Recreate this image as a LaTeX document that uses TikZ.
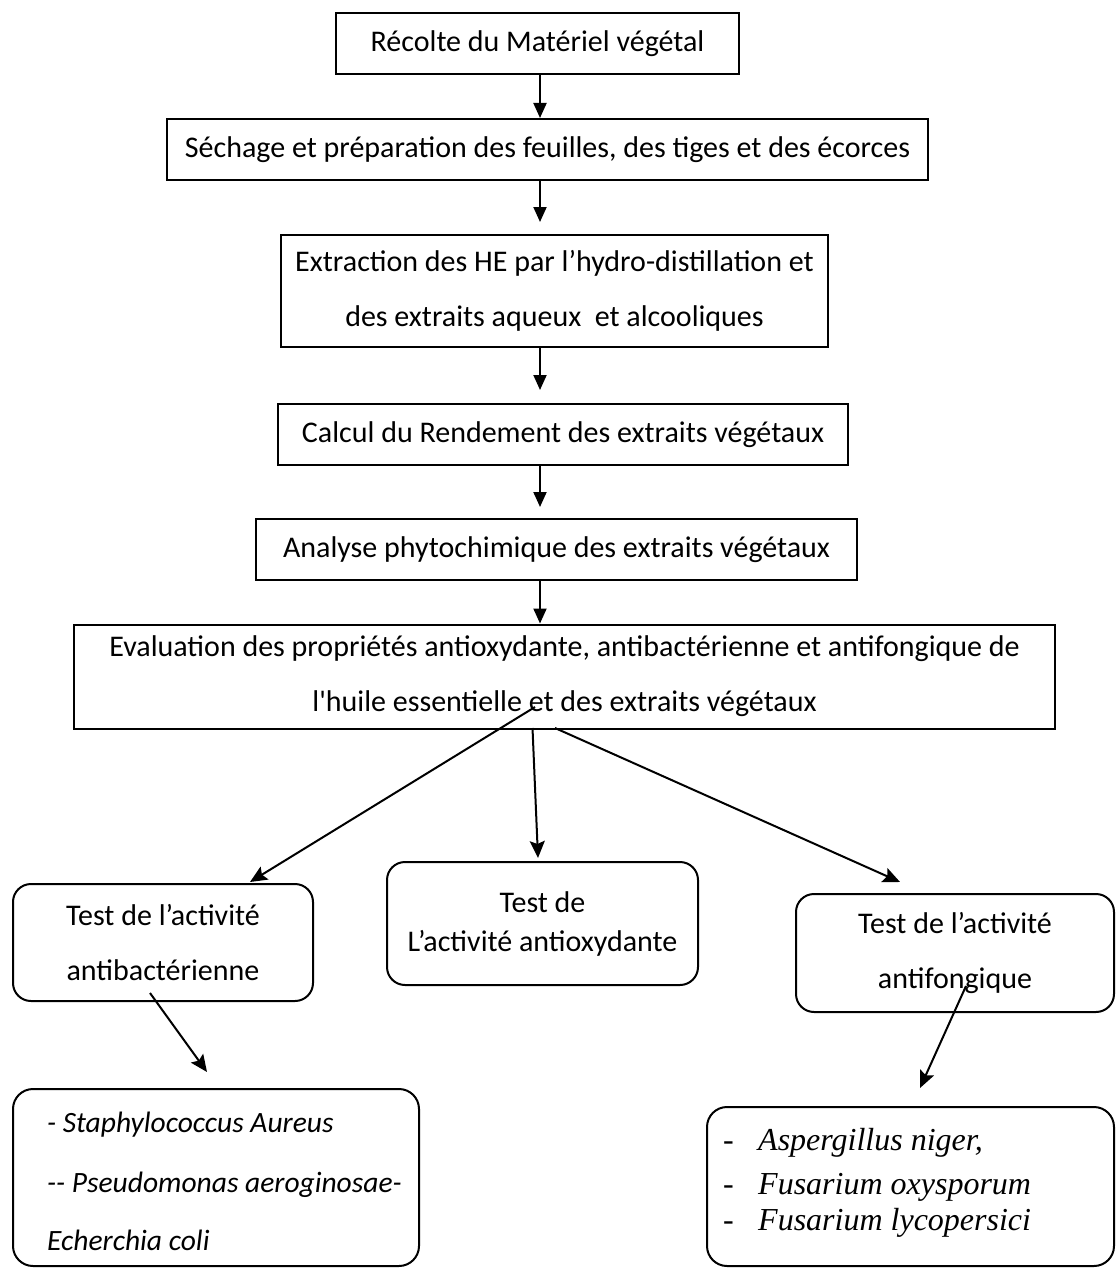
\documentclass[tikz,border=0pt]{standalone}
\usepackage{fontspec}
\setmainfont{Carlito}
\newfontfamily\serifit{Liberation Serif}
\usetikzlibrary{positioning, arrows.meta}

\tikzset{
  stepbox/.style={draw, line width=2pt, inner sep=0pt, align=center,
    font=\fontsize{30}{55}\selectfont},
  testbox/.style={stepbox, rounded corners=18pt},
  listbox/.style={draw, line width=2pt, rounded corners=20pt, inner sep=0pt},
  strain/.style={inner sep=0pt, font=\fontsize{29.5}{34}\selectfont\itshape},
  fungus/.style={inner sep=0pt, font=\fontsize{32}{36}\selectfont\serifit},
  flow/.style={-{Triangle[length=15pt, width=13pt]}, line width=2pt},
  branch/.style={-{Stealth[length=17pt, width=15pt, inset=3pt]}, line width=2pt},
}

\begin{document}
\begin{tikzpicture}[x=1pt, y=-1pt]
  \useasboundingbox (0,0) rectangle (1117,1268);
  % Main steps
  \node[stepbox, minimum width=403pt, minimum height=61pt] (recolte) at (537.5,43.5) {Récolte du Matériel végétal};
  \node[stepbox, minimum width=761pt, minimum height=61pt] (sechage) at (547.5,149.5) {Séchage et préparation des feuilles, des tiges et des écorces};
  \node[stepbox, minimum width=547pt, minimum height=112pt] (extraction) at (554.5,291) {Extraction des HE par l’hydro-distillation et\\des extraits aqueux\ \ et alcooliques};
  \node[stepbox, minimum width=570pt, minimum height=61pt] (rendement) at (563,434.5) {Calcul du Rendement des extraits végétaux};
  \node[stepbox, minimum width=601pt, minimum height=61pt] (analyse) at (556.5,549.5) {Analyse phytochimique des extraits végétaux};
  \node[stepbox, minimum width=981pt, minimum height=104pt] (evaluation) at (564.5,676.5) {Evaluation des propriétés antioxydante, antibactérienne et antifongique de\\l\textquotesingle huile essentielle et des extraits végétaux};

  % Tests
  \node[testbox, minimum width=300pt, minimum height=117pt] (antibact) at (163,942.5) {Test de l’activité\\antibactérienne};
  \node[testbox, minimum width=311pt, minimum height=123pt, font=\fontsize{30}{39}\selectfont] (antiox) at (542.5,923.5) {Test de\\L’activité antioxydante};
  \node[testbox, minimum width=318pt, minimum height=118pt] (antifong) at (955,953) {Test de l’activité\\antifongique};

  % Strains
  \node[listbox, minimum width=406pt, minimum height=177pt] (bactbox) at (216,1177.5) {};
  \node[strain, anchor=base west] (bact1) at (47,1132) {- Staphylococcus Aureus};
  \node[strain, anchor=base west] (bact2) at (47,1192) {-{}- Pseudomonas aeroginosae-};
  \node[strain, anchor=base west] (bact3) at (47,1250) {Echerchia coli};
  \node[listbox, minimum width=407pt, minimum height=159pt] (fongbox) at (910.5,1186.5) {};
  \node[fungus, anchor=base west] (fong1) at (723,1150) {\makebox[35pt][l]{-}\textit{Aspergillus niger,}};
  \node[fungus, anchor=base west] (fong2) at (723,1194) {\makebox[35pt][l]{-}\textit{Fusarium oxysporum}};
  \node[fungus, anchor=base west] (fong3) at (723,1230) {\makebox[35pt][l]{-}\textit{Fusarium lycopersici}};

  % Vertical flow
  \coordinate (spine) at (540,0);
  \draw[flow] (recolte.south -| spine) -- (sechage.north -| spine);
  \draw[flow, shorten >=12pt] (sechage.south -| spine) -- (extraction.north -| spine);
  \draw[flow, shorten >=13pt] (extraction.south -| spine) -- (rendement.north -| spine);
  \draw[flow, shorten >=11pt] (rendement.south -| spine) -- (analyse.north -| spine);
  \draw[flow] (analyse.south -| spine) -- (evaluation.north -| spine);

  % Branches
  \coordinate (evalL) at (535,707);
  \coordinate (evalM) at (532.5,728);
  \coordinate (evalR) at (555,728);
  \coordinate (bactTip) at (250,882);
  \coordinate (oxTip) at (538,858);
  \coordinate (fongTip) at (900,882);
  \draw[branch] (evalL) -- (bactTip);
  \draw[branch] (evalM) -- (oxTip);
  \draw[branch] (evalR) -- (fongTip);
  \coordinate (bactFrom) at (150,993);
  \coordinate (bactTo) at (207,1072);
  \coordinate (fongFrom) at (966,986);
  \coordinate (fongTo) at (920,1088);
  \draw[branch] (bactFrom) -- (bactTo);
  \draw[branch] (fongFrom) -- (fongTo);
\end{tikzpicture}
\end{document}
